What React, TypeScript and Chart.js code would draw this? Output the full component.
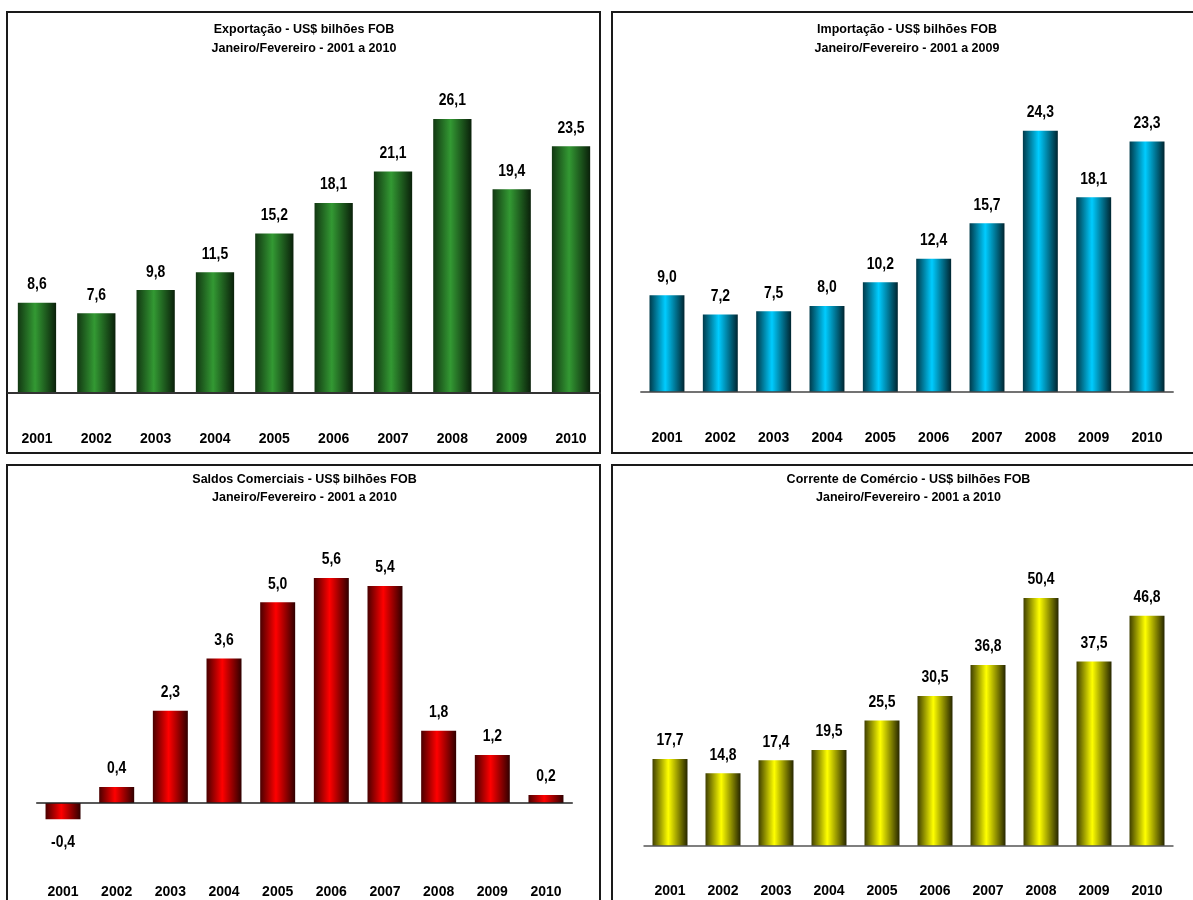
import React, { useEffect, useRef } from 'react';
import { Chart, registerables } from 'chart.js';

Chart.register(...registerables);

const years = ['2001', '2002', '2003', '2004', '2005', '2006', '2007', '2008', '2009', '2010'];
const exportValues = [8.6, 7.6, 9.8, 11.5, 15.2, 18.1, 21.1, 26.1, 19.4, 23.5];
const importValues = [9.0, 7.2, 7.5, 8.0, 10.2, 12.4, 15.7, 24.3, 18.1, 23.3];
const balanceValues = [-0.4, 0.4, 2.3, 3.6, 5.0, 5.6, 5.4, 1.8, 1.2, 0.2];
const tradeValues = [17.7, 14.8, 17.4, 19.5, 25.5, 30.5, 36.8, 50.4, 37.5, 46.8];

const exportTitle = ['Exportação - US$ bilhões FOB', 'Janeiro/Fevereiro - 2001 a 2010'];
const importTitle = ['Importação - US$ bilhões FOB', 'Janeiro/Fevereiro - 2001 a 2009'];
const balanceTitle = ['Saldos Comerciais - US$ bilhões FOB', 'Janeiro/Fevereiro - 2001 a 2010'];
const tradeTitle = ['Corrente de Comércio - US$ bilhões FOB', 'Janeiro/Fevereiro - 2001 a 2010'];

const FONT = "'Liberation Sans', Arial, Helvetica, sans-serif";

type PanelProps = {
  left: number;
  top: number;
  width: number;
  height: number;
  boxWidth: number;
  boxHeight: number;
  title: string[];
  titlePadTop: number;
  titlePadBottom: number;
  titleLineHeight: number;
  values: number[];
  stops: [string, string, string];
  yMin: number;
  yMax: number;
  pl: number;
  pr: number;
  pb: number;
  tickLen: number;
  barPct: number;
  lineColor: string;
  lineWidth: number;
};

const fmt = (v: number) => v.toFixed(1).replace('.', ',');

function Panel(p: PanelProps) {
  const ref = useRef<HTMLCanvasElement | null>(null);
  useEffect(() => {
    if (!ref.current) return;
    const n = p.values.length;
    const gradientFor = (c: any) => {
      const chart = c.chart;
      const xs = chart.scales?.x;
      if (!chart.chartArea || !xs || c.dataIndex === undefined) return p.stops[1];
      const cx = xs.getPixelForValue(c.dataIndex);
      const w = (xs.width / n) * p.barPct;
      const g = chart.ctx.createLinearGradient(cx - w / 2, 0, cx + w / 2, 0);
      g.addColorStop(0, p.stops[0]);
      g.addColorStop(0.45, p.stops[1]);
      g.addColorStop(1, p.stops[2]);
      return g;
    };
    const overlay = {
      id: 'overlay',
      afterDatasetsDraw(chart: any) {
        const ctx = chart.ctx;
        const ys = chart.scales.y;
        const y0 = ys.getPixelForValue(0);
        ctx.save();
        ctx.strokeStyle = p.lineColor;
        ctx.lineWidth = p.lineWidth;
        ctx.beginPath();
        ctx.moveTo(chart.chartArea.left, y0);
        ctx.lineTo(chart.chartArea.right, y0);
        ctx.stroke();
        const meta = chart.getDatasetMeta(0);
        ctx.fillStyle = '#000';
        ctx.font = `bold 16px ${FONT}`;
        ctx.textAlign = 'center';
        ctx.textBaseline = 'middle';
        meta.data.forEach((el: any, i: number) => {
          const v = p.values[i];
          const y = v >= 0 ? el.y - 18 : el.y + 23;
          ctx.save();
          ctx.translate(el.x, y);
          ctx.scale(0.87, 1);
          ctx.fillText(fmt(v), 0, 0);
          ctx.restore();
        });
        ctx.restore();
      },
    };
    const chart = new Chart(ref.current, {
      type: 'bar',
      data: {
        labels: years,
        datasets: [
          {
            data: p.values,
            backgroundColor: gradientFor as any,
            borderWidth: 0,
            categoryPercentage: 1,
            barPercentage: p.barPct,
          },
        ],
      },
      options: {
        responsive: false,
        maintainAspectRatio: false,
        animation: false,
        layout: { padding: { left: p.pl, right: p.pr, top: 0, bottom: p.pb } },
        plugins: {
          legend: { display: false },
          tooltip: { enabled: false },
          title: {
            display: true,
            text: p.title,
            color: '#000',
            font: { family: FONT, size: 12.5, weight: 'bold', lineHeight: p.titleLineHeight },
            padding: { top: p.titlePadTop, bottom: p.titlePadBottom },
          },
        },
        scales: {
          x: {
            offset: true,
            grid: {
              display: true,
              drawOnChartArea: false,
              drawTicks: true,
              tickLength: p.tickLen,
              color: 'rgba(0,0,0,0)',
            },
            border: { display: false },
            ticks: {
              color: '#000',
              padding: 0,
              maxRotation: 0,
              autoSkip: false,
              font: { family: FONT, size: 14, weight: 'bold' },
            },
          },
          y: {
            display: false,
            min: p.yMin,
            max: p.yMax,
          },
        },
      },
      plugins: [overlay],
    });
    return () => chart.destroy();
  }, []);
  return (
    <>
      <div
        style={{
          position: 'absolute',
          left: p.left,
          top: p.top,
          width: p.boxWidth,
          height: p.boxHeight,
          border: '2px solid #1a1a1a',
          boxSizing: 'border-box',
        }}
      />
      <canvas
        ref={ref}
        width={p.width}
        height={p.height}
        style={{ position: 'absolute', left: p.left, top: p.top, width: p.width, height: p.height }}
      />
    </>
  );
}

export default function App() {
  return (
    <div
      style={{
        position: 'absolute',
        left: 0,
        top: 0,
        width: 1193,
        height: 900,
        overflow: 'hidden',
        background: '#fff',
      }}
    >
      <Panel
        left={6} top={11} width={595} height={443} boxWidth={595} boxHeight={443}
        title={exportTitle} titlePadTop={9} titlePadBottom={20} titleLineHeight={1.52}
        values={exportValues}
        stops={['#123812', '#339933', '#0a200a']}
        yMin={0} yMax={30} pl={1.3} pr={0.3} pb={6.5} tickLen={37.7} barPct={0.645}
        lineColor="#333" lineWidth={2}
      />
      <Panel
        left={611} top={11} width={590} height={443} boxWidth={620} boxHeight={443}
        title={importTitle} titlePadTop={9} titlePadBottom={20} titleLineHeight={1.52}
        values={importValues}
        stops={['#003a4a', '#00ccff', '#002530']}
        yMin={0} yMax={29.2} pl={29.3} pr={27.3} pb={7.2} tickLen={38} barPct={0.655}
        lineColor="#444" lineWidth={1.5}
      />
      <Panel
        left={6} top={464} width={595} height={443} boxWidth={595} boxHeight={460}
        title={balanceTitle} titlePadTop={6.5} titlePadBottom={24.5} titleLineHeight={1.44}
        values={balanceValues}
        stops={['#4a0000', '#ff0000', '#300000']}
        yMin={-1.0} yMax={6.77} pl={30.2} pr={28.2} pb={6.2} tickLen={40.7} barPct={0.652}
        lineColor="#222" lineWidth={1.5}
      />
      <Panel
        left={611} top={464} width={590} height={443} boxWidth={620} boxHeight={460}
        title={tradeTitle} titlePadTop={6.5} titlePadBottom={24.5} titleLineHeight={1.44}
        values={tradeValues}
        stops={['#3f3f00', '#ffff00', '#262600']}
        yMin={0} yMax={64} pl={32.5} pr={27.5} pb={7.2} tickLen={37} barPct={0.66}
        lineColor="#555" lineWidth={1.5}
      />
    </div>
  );
}
